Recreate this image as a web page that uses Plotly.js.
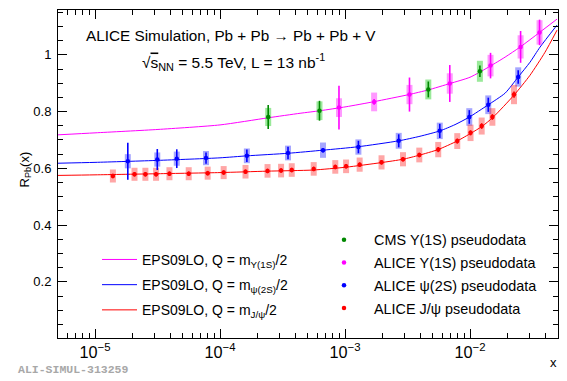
<!DOCTYPE html>
<html>
<head>
<meta charset="utf-8">
<script src="https://cdn.plot.ly/plotly-3.0.1.min.js"></script>
<style>
  html, body { margin: 0; padding: 0; background: #fff; }
  #rpb_chart { width: 567px; height: 381px; }
</style>
</head>
<body>
<div id="rpb_chart"></div>
<script>
// EPS09LO curves:
const eps_ups_x = [5.06e-6, 1e-5, 3.19e-5, 1e-4, 2.42e-4, 4.37e-4, 6.31e-4, 1.02e-3, 1.71e-3, 3.25e-3, 4.61e-3, 6.92e-3, 1e-2, 1.45e-2, 1.91e-2, 2.51e-2, 3.63e-2, 4.97e-2];
const eps_ups_y = [0.718, 0.725, 0.737, 0.753, 0.778, 0.794, 0.803, 0.817, 0.835, 0.860, 0.876, 0.899, 0.921, 0.960, 0.992, 1.027, 1.080, 1.126];

const eps_psi_x = [5.06e-6, 1e-5, 3.19e-5, 1e-4, 1.64e-4, 3.50e-4, 6.67e-4, 1.27e-3, 2.70e-3, 3.98e-3, 5.75e-3, 7.59e-3, 9.82e-3, 1.39e-2, 1.91e-2, 2.42e-2, 3.02e-2, 3.63e-2, 4.97e-2];
const eps_psi_y = [0.618, 0.621, 0.628, 0.637, 0.644, 0.653, 0.664, 0.676, 0.697, 0.713, 0.732, 0.754, 0.780, 0.823, 0.865, 0.921, 0.974, 1.027, 1.105];

const eps_jpsi_x = [5.06e-6, 1e-5, 3.19e-5, 1e-4, 2.38e-4, 5.55e-4, 1.02e-3, 1.94e-3, 2.91e-3, 3.91e-3, 5.55e-3, 7.87e-3, 1.02e-2, 1.25e-2, 1.53e-2, 2.25e-2, 3.02e-2, 3.98e-2, 4.97e-2];
const eps_jpsi_y = [0.575, 0.577, 0.581, 0.585, 0.590, 0.594, 0.604, 0.620, 0.632, 0.646, 0.666, 0.696, 0.724, 0.748, 0.780, 0.858, 0.928, 1.009, 1.087];

// Pseudodata: value, stat error, syst error
const cms_ups_x = [2.43e-4, 6.25e-4, 4.64e-3, 1.20e-2];
const cms_ups_y = [0.781, 0.803, 0.878, 0.942];
const cms_ups_stat = [0.042, 0.035, 0.028, 0.020];
const cms_ups_sys = [0.032, 0.033, 0.035, 0.037];

const alice_ups_x = [8.95e-4, 1.71e-3, 3.28e-3, 6.89e-3, 1.46e-2, 2.54e-2, 3.60e-2];
const alice_ups_y = [0.814, 0.834, 0.860, 0.899, 0.962, 1.028, 1.079];
const alice_ups_stat = [0.077, 0.010, 0.060, 0.065, 0.045, 0.056, 0.045];
const alice_ups_sys = [0.033, 0.033, 0.034, 0.036, 0.038, 0.041, 0.043];

const alice_psi_x = [1.83e-5, 3.15e-5, 4.51e-5, 7.73e-5, 1.64e-4, 3.50e-4, 6.67e-4, 1.28e-3, 2.69e-3, 5.73e-3, 9.87e-3, 1.40e-2, 2.43e-2];
const alice_psi_y = [0.625, 0.631, 0.634, 0.636, 0.644, 0.654, 0.664, 0.675, 0.697, 0.732, 0.781, 0.824, 0.922];
const alice_psi_stat = [0.065, 0.037, 0.033, 0.020, 0.022, 0.022, 0.008, 0.022, 0.023, 0.025, 0.024, 0.025, 0.024];
const alice_psi_sys = [0.025, 0.025, 0.025, 0.025, 0.026, 0.026, 0.027, 0.027, 0.028, 0.029, 0.031, 0.033, 0.034];

const alice_jpsi_x = [1.39e-5, 2.07e-5, 2.53e-5, 3.08e-5, 3.94e-5, 5.62e-5, 7.97e-5, 1.07e-4, 1.60e-4, 2.40e-4, 3.08e-4, 3.75e-4, 5.62e-4, 8.36e-4, 1.02e-3, 1.31e-3, 1.96e-3, 2.91e-3, 3.93e-3, 5.57e-3, 7.91e-3, 1.01e-2, 1.24e-2, 1.51e-2, 2.25e-2];
const alice_jpsi_y = [0.573, 0.579, 0.579, 0.579, 0.581, 0.581, 0.583, 0.585, 0.588, 0.591, 0.592, 0.594, 0.598, 0.605, 0.607, 0.613, 0.621, 0.632, 0.647, 0.666, 0.696, 0.725, 0.749, 0.781, 0.860];
const alice_jpsi_stat = [0.008, 0.008, 0.008, 0.008, 0.008, 0.008, 0.008, 0.008, 0.008, 0.008, 0.008, 0.008, 0.008, 0.008, 0.008, 0.008, 0.008, 0.008, 0.008, 0.009, 0.009, 0.009, 0.010, 0.010, 0.011];
const alice_jpsi_sys = [0.023, 0.023, 0.023, 0.023, 0.023, 0.023, 0.023, 0.023, 0.024, 0.024, 0.024, 0.024, 0.024, 0.024, 0.024, 0.025, 0.025, 0.025, 0.026, 0.027, 0.028, 0.029, 0.030, 0.031, 0.034];

const y_tick_vals = [0.2, 0.4, 0.6, 0.8, 1];

const font_main = "Liberation Sans, Arial, sans-serif";

function curve(x, y, color, name) {
    return {
        type: "scatter", mode: "lines", x: x, y: y, name: name,
        line: {color: color, width: 1, shape: "spline", smoothing: 0.6},
        legend: "legend", legendgroup: name, hoverinfo: "skip"
    };
}

// systematic boxes drawn as thick transparent error bars
function sysBoxes(x, y, err, color) {
    return {
        type: "scatter", mode: "markers", x: x, y: y, showlegend: false,
        marker: {size: 1, color: "rgba(0,0,0,0)"},
        error_y: {type: "data", array: err, color: color, thickness: 6, width: 0},
        hoverinfo: "skip"
    };
}

function statPoints(x, y, err, color, name) {
    return {
        type: "scatter", mode: "markers", x: x, y: y, name: name,
        legend: "legend2", legendgroup: name,
        marker: {size: 4.5, color: color, symbol: "circle"},
        error_y: {type: "data", array: err, color: color, thickness: 1.6, width: 0}
    };
}

const traces = [
    curve(eps_ups_x, eps_ups_y, "#ff00ff", "EPS09LO, Q = m<sub>Υ(1S)</sub>/2"),
    curve(eps_psi_x, eps_psi_y, "#0000ff", "EPS09LO, Q = m<sub>ψ(2S)</sub>/2"),
    curve(eps_jpsi_x, eps_jpsi_y, "#ff0000", "EPS09LO, Q = m<sub>J/ψ</sub>/2"),
    sysBoxes(cms_ups_x, cms_ups_y, cms_ups_sys, "rgba(0,200,0,0.4)"),
    sysBoxes(alice_ups_x, alice_ups_y, alice_ups_sys, "rgba(255,0,255,0.4)"),
    sysBoxes(alice_psi_x, alice_psi_y, alice_psi_sys, "rgba(0,0,255,0.35)"),
    sysBoxes(alice_jpsi_x, alice_jpsi_y, alice_jpsi_sys, "rgba(255,0,0,0.35)"),
    statPoints(cms_ups_x, cms_ups_y, cms_ups_stat, "#008800", "CMS Υ(1S) pseudodata"),
    statPoints(alice_ups_x, alice_ups_y, alice_ups_stat, "#ff00ff", "ALICE Υ(1S) pseudodata"),
    statPoints(alice_psi_x, alice_psi_y, alice_psi_stat, "#0000ff", "ALICE ψ(2S) pseudodata"),
    statPoints(alice_jpsi_x, alice_jpsi_y, alice_jpsi_stat, "#ff0000", "ALICE J/ψ pseudodata")
];

Plotly.newPlot("rpb_chart", traces, {
    width: 567,
    height: 381,
    margin: {l: 58, r: 9, t: 10, b: 43},
    paper_bgcolor: "#fff",
    plot_bgcolor: "#fff",
    font: {family: font_main, size: 13, color: "#000"},

    xaxis: {
        type: "log",
        range: [-5.296, -1.296],
        dtick: 1,
        exponentformat: "power",
        ticks: "inside", ticklen: 9, tickcolor: "#000",
        minor: {ticks: "inside", ticklen: 5, dtick: "D1", tickcolor: "#000"},
        showline: true, linecolor: "#000", linewidth: 1, mirror: "ticks",
        showgrid: false, zeroline: false,
        tickfont: {size: 13}
    },

    yaxis: {
        range: [0.002, 1.158],
        tickvals: y_tick_vals,
        ticktext: y_tick_vals.map(String),
        ticks: "inside", ticklen: 9, tickcolor: "#000",
        minor: {ticks: "inside", ticklen: 5, dtick: 0.05, tick0: 0, tickcolor: "#000"},
        showline: true, linecolor: "#000", linewidth: 1, mirror: "ticks",
        showgrid: false, zeroline: false,
        ticklabelstandoff: 3,
        tickfont: {size: 13}
    },

    // curves legend (left) and pseudodata legend (right)
    legend: {
        x: 0.078, y: 0.287, xanchor: "left", yanchor: "top",
        bgcolor: "rgba(0,0,0,0)", font: {size: 14},
        itemwidth: 35, tracegroupgap: 4
    },
    legend2: {
        x: 0.512, y: 0.348, xanchor: "left", yanchor: "top",
        bgcolor: "rgba(0,0,0,0)", font: {size: 14.4},
        itemwidth: 50, tracegroupgap: 1
    },

    annotations: [
        {xref: "paper", yref: "paper", x: 0.052, y: 0.921, xanchor: "left", yanchor: "middle", showarrow: false,
         text: "ALICE Simulation, Pb + Pb → Pb + Pb + V", font: {size: 15.3}},
        {xref: "paper", yref: "paper", x: 0.164, y: 0.842, xanchor: "left", yanchor: "middle", showarrow: false,
         text: "√<span style=\"text-decoration:overline\">s</span><sub>NN</sub> = 5.5 TeV, L = 13 nb<sup>-1</sup>", font: {size: 15.5}},
        {xref: "paper", yref: "paper", x: -0.066, y: 0.514, xanchor: "center", yanchor: "middle", showarrow: false,
         textangle: -90, text: "R<sub>Pb</sub>(x)", font: {size: 13}},
        {xref: "paper", yref: "paper", x: 0.99, y: -0.075, xanchor: "center", yanchor: "middle", showarrow: false,
         text: "x", font: {size: 13}},
        {xref: "paper", yref: "paper", x: -0.085, y: -0.095, xanchor: "left", yanchor: "middle", showarrow: false,
         text: "<b>ALI-SIMUL-313259</b>", font: {family: "Liberation Mono, Courier New, monospace", size: 11.5, color: "#a8a8a8"}}
    ]
}, {staticPlot: true});
</script>
</body>
</html>
